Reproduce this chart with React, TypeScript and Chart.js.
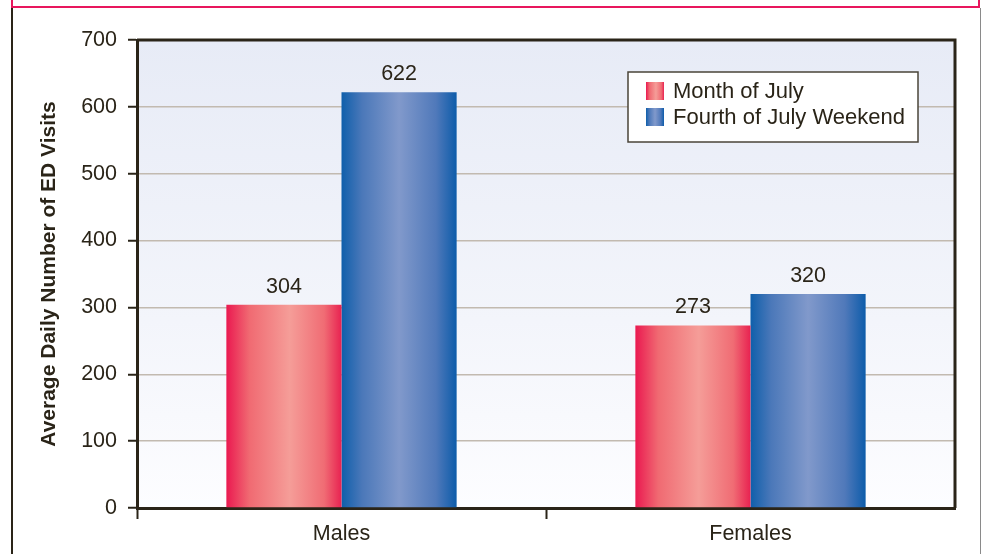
import React, { useEffect, useRef } from 'react';
import { Chart, registerables } from 'chart.js';

Chart.register(...registerables);

const categories = ['Males', 'Females'];
const seriesNames = ['Month of July', 'Fourth of July Weekend'];
const monthOfJuly = [304, 273];
const fourthOfJulyWeekend = [622, 320];
const yMin = 0;
const yMax = 700;
const yStep = 100;

const FONT = "'Liberation Sans', Arial, Helvetica, sans-serif";
const TEXT = '#2a2418';
const AXIS = '#2a2418';

const redStops: [number, string][] = [
  [0, '#ea1950'],
  [0.2, '#f06a72'],
  [0.55, '#f59d98'],
  [0.85, '#f06c74'],
  [1, '#e82251'],
];
const blueStops: [number, string][] = [
  [0, '#0f5fab'],
  [0.18, '#4b78b9'],
  [0.5, '#8199cb'],
  [0.82, '#5079ba'],
  [1, '#0d5caa'],
];
const stopsFor = [redStops, blueStops];

function hGrad(ctx: CanvasRenderingContext2D, x0: number, x1: number, stops: [number, string][]) {
  const g = ctx.createLinearGradient(x0, 0, x1, 0);
  stops.forEach(([o, c]) => g.addColorStop(o, c));
  return g;
}

const backgroundPlugin = {
  id: 'bgFrame',
  beforeDraw(chart: any) {
    const { ctx, chartArea: ca, width, height } = chart;
    ctx.save();
    ctx.fillStyle = '#ffffff';
    ctx.fillRect(0, 0, width, height);
    // outer frame
    ctx.strokeStyle = '#e8175d';
    ctx.lineWidth = 2;
    ctx.beginPath();
    ctx.moveTo(12, 0);
    ctx.lineTo(12, 7);
    ctx.lineTo(979, 7);
    ctx.lineTo(979, 0);
    ctx.stroke();
    ctx.strokeStyle = '#2a2418';
    ctx.lineWidth = 2;
    ctx.beginPath();
    ctx.moveTo(12, 8);
    ctx.lineTo(12, height);
    ctx.stroke();
    ctx.strokeStyle = '#8a8a8a';
    ctx.lineWidth = 1;
    ctx.beginPath();
    ctx.moveTo(980.5, 8);
    ctx.lineTo(980.5, height);
    ctx.stroke();
    // plot area gradient
    const g = ctx.createLinearGradient(0, ca.top, 0, ca.bottom);
    g.addColorStop(0, '#e7ebf6');
    g.addColorStop(0.6, '#f3f5fb');
    g.addColorStop(1, '#fdfdff');
    ctx.fillStyle = g;
    ctx.fillRect(ca.left, ca.top, ca.right - ca.left, ca.bottom - ca.top);
    ctx.restore();
  },
  beforeDatasetsDraw(chart: any) {
    const { ctx } = chart;
    chart.data.datasets.forEach((_: any, di: number) => {
      const meta = chart.getDatasetMeta(di);
      meta.data.forEach((el: any) => {
        const x0 = el.x - el.width / 2;
        const x1 = el.x + el.width / 2;
        el.options.backgroundColor = hGrad(ctx, x0, x1, stopsFor[di]);
      });
    });
  },
  afterDatasetsDraw(chart: any) {
    const { ctx, chartArea: ca } = chart;
    ctx.save();
    ctx.strokeStyle = AXIS;
    ctx.lineWidth = 3;
    ctx.beginPath();
    ctx.moveTo(ca.left, ca.top);
    ctx.lineTo(ca.right, ca.top);
    ctx.lineTo(ca.right, ca.bottom);
    ctx.stroke();
    ctx.restore();
  },
  afterDraw(chart: any) {
    const { ctx, chartArea: ca } = chart;
    ctx.save();
    // value labels
    ctx.font = `21.5px ${FONT}`;
    ctx.fillStyle = TEXT;
    ctx.textAlign = 'center';
    ctx.textBaseline = 'alphabetic';
    chart.data.datasets.forEach((ds: any, di: number) => {
      const meta = chart.getDatasetMeta(di);
      meta.data.forEach((el: any, i: number) => {
        ctx.fillText(String(ds.data[i]), el.x, el.y - 12);
      });
    });
    // legend
    const bx = ca.right - 327;
    const by = ca.top + 32;
    const bw = 290;
    const bh = 70;
    ctx.fillStyle = '#ffffff';
    ctx.fillRect(bx, by, bw, bh);
    ctx.strokeStyle = '#4a4438';
    ctx.lineWidth = 1.5;
    ctx.strokeRect(bx, by, bw, bh);
    chart.data.datasets.forEach((ds: any, di: number) => {
      const sx = bx + 18;
      const sy = by + 10 + di * 26;
      ctx.fillStyle = hGrad(ctx, sx, sx + 18, stopsFor[di]);
      ctx.fillRect(sx, sy, 18, 18);
      ctx.fillStyle = TEXT;
      ctx.textAlign = 'left';
      ctx.textBaseline = 'middle';
      ctx.font = `22px ${FONT}`;
      ctx.fillText(ds.label, sx + 27, sy + 10);
    });
    ctx.restore();
  },
};

export default function App() {
  const ref = useRef<HTMLCanvasElement | null>(null);

  useEffect(() => {
    document.body.style.margin = '0';
    if (!ref.current) return;
    const chart = new Chart(ref.current, {
      type: 'bar',
      data: {
        labels: categories,
        datasets: [
          { label: seriesNames[0], data: monthOfJuly, backgroundColor: () => redStops[0][1], borderWidth: 0 },
          { label: seriesNames[1], data: fourthOfJulyWeekend, backgroundColor: () => blueStops[0][1], borderWidth: 0 },
        ],
      },
      options: {
        responsive: false,
        animation: false,
        layout: { padding: { top: 40, right: 31, bottom: 0, left: 0 } },
        datasets: { bar: { categoryPercentage: 0.563, barPercentage: 1 } },
        plugins: {
          legend: { display: false },
          tooltip: { enabled: false },
          title: { display: false },
        },
        scales: {
          x: {
            type: 'category',
            offset: true,
            grid: {
              offset: true,
              drawOnChartArea: false,
              drawTicks: true,
              tickLength: 11,
              tickWidth: 2,
              tickColor: (c: any) => (c.index === undefined || c.type === 'scale' ? 'rgba(0,0,0,0)' : AXIS),
            },
            border: { display: true, color: AXIS, width: 3 },
            ticks: { font: { family: FONT, size: 21.5 }, color: TEXT, padding: 2 },
            afterFit: (s: any) => { s.height = 46; },
          },
          y: {
            min: yMin,
            max: yMax,
            ticks: { stepSize: yStep, font: { family: FONT, size: 21.5 }, color: TEXT, padding: 11 },
            grid: { color: '#c2bab0', lineWidth: 1.5, tickLength: 9, tickWidth: 2, tickColor: AXIS },
            border: { display: true, color: AXIS, width: 3 },
            title: {
              display: true,
              text: 'Average Daily Number of ED Visits',
              font: { family: FONT, size: 21, weight: 'bold' },
              color: TEXT,
              padding: { top: 37, bottom: 0 },
            },
            afterFit: (s: any) => { s.width = 137; },
          },
        },
      },
      plugins: [backgroundPlugin],
    } as any);
    return () => chart.destroy();
  }, []);

  return (
    <div style={{ width: 986, height: 554, position: 'relative' }}>
      <canvas ref={ref} width={986} height={554} style={{ display: 'block' }} />
    </div>
  );
}
